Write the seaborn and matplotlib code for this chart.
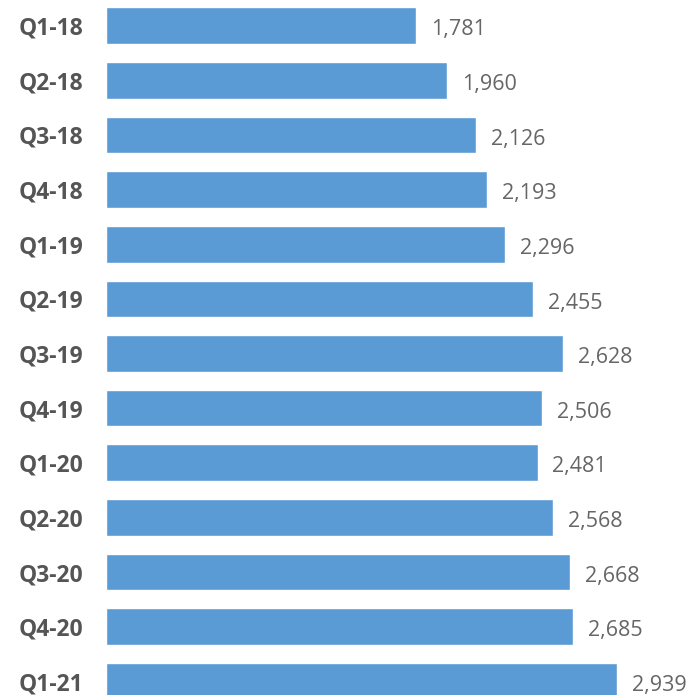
import matplotlib
matplotlib.use("Agg")
import matplotlib.pyplot as plt
import seaborn as sns
import pandas as pd

# data
quarters = ["Q1-18", "Q2-18", "Q3-18", "Q4-18", "Q1-19", "Q2-19", "Q3-19",
            "Q4-19", "Q1-20", "Q2-20", "Q3-20", "Q4-20", "Q1-21"]
values = [1781, 1960, 2126, 2193, 2296, 2455, 2628, 2506, 2481, 2568, 2668, 2685, 2939]

df = pd.DataFrame({"quarter": quarters, "value": values})

sns.set_style("white")
plt.rcParams["font.family"] = ["Open Sans", "DejaVu Sans"]

fig = plt.figure(figsize=(6.93, 6.95), dpi=100)
ax = fig.add_axes([0.153, 0.0, 0.847, 1.0])

sns.barplot(data=df, x="value", y="quarter", color="#5B9BD5", saturation=1,
            width=0.67, ax=ax)

ax.set_xlim(0, 3375)
ax.set_ylim(12.25, -0.47)

# value labels, a bit right of each bar end
for i, v in enumerate(values):
    ax.text(v + 86, i + 0.03, f"{v:,}", va="center_baseline", ha="left",
            fontsize=15.5, color="#666666")

ax.set_xlabel("")
ax.set_ylabel("")
ax.set_xticks([])
ax.tick_params(axis="y", length=0, pad=16.5)
for lbl in ax.get_yticklabels():
    lbl.set_fontweight("bold")
    lbl.set_fontsize(16.5)
    lbl.set_color("#555555")
sns.despine(ax=ax, left=True, bottom=True)

plt.savefig("out.png", dpi=100)
